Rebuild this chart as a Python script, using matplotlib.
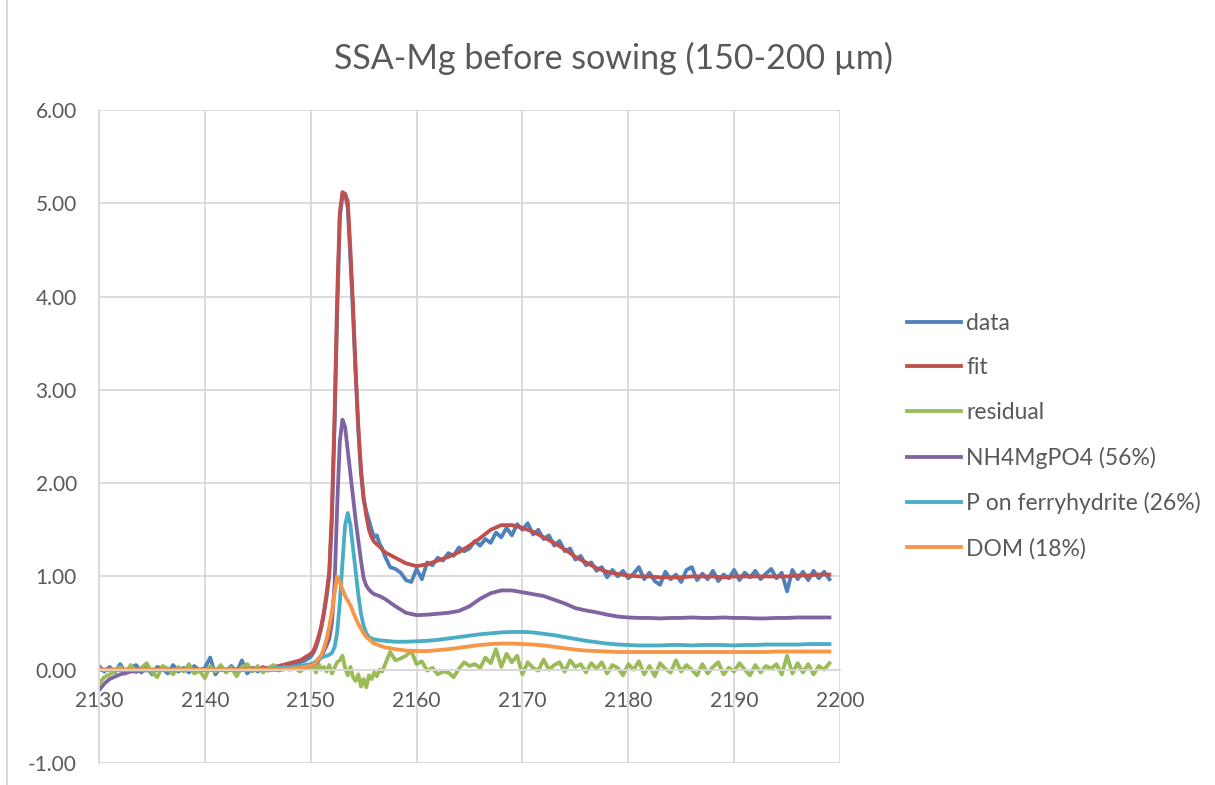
import matplotlib.pyplot as plt
import numpy as np

# measured spectrum and residual (energy in eV)
data_e = np.concatenate([np.arange(2130, 2150.01, 0.5),
                         np.arange(2150.25, 2157.01, 0.25),
                         np.arange(2157.5, 2199.01, 0.5)])
data = [0.04, -0.02, 0.03, -0.03, 0.06, -0.04, 0.02, 0.05, -0.03, 0.04,
        -0.05, 0.03, 0.01, -0.04, 0.05, -0.02, 0.02, -0.03, 0.04, -0.01,
        0.02, 0.13, -0.05, 0.03, -0.02, 0.04, -0.03, 0.10, -0.04, 0.02,
        -0.02, 0.03, -0.01, 0.02, 0.00, 0.03, 0.04, 0.05, 0.08, 0.10,
        0.14,
        0.18, 0.24, 0.33, 0.45, 0.60, 0.78, 1.00, 1.60, 2.60, 3.80,
        4.85, 5.08, 5.10, 4.95, 4.40, 3.80, 3.15, 2.55, 2.10, 1.82,
        1.70, 1.60, 1.50, 1.42, 1.44, 1.35, 1.30, 1.22,
        1.10, 1.08, 1.04, 0.96, 0.94, 1.08, 0.97, 1.15, 1.12,
        1.20, 1.17, 1.25, 1.22, 1.31, 1.27, 1.30, 1.38, 1.33, 1.40,
        1.36, 1.47, 1.42, 1.52, 1.44, 1.56, 1.50, 1.57, 1.45, 1.50,
        1.40, 1.44, 1.33, 1.38, 1.27, 1.30, 1.18, 1.22, 1.12, 1.15,
        1.06, 1.10, 0.99, 1.07, 1.00, 1.06, 0.98, 1.03, 1.10, 0.97,
        1.04, 0.95, 0.91, 1.05, 0.97, 1.02, 0.94, 1.07, 1.10, 0.96,
        1.03, 0.97, 1.06, 0.95, 1.02, 0.98, 1.07, 0.96, 1.04, 0.99,
        1.06, 0.97, 1.03, 1.08, 0.98, 1.04, 0.84, 1.07, 0.97, 1.05,
        0.96, 1.06, 0.98, 1.05, 0.97]
residual = [-0.15, -0.08, -0.05, -0.02, 0.03, -0.04, 0.05, -0.03, 0.02, 0.07,
            -0.03, -0.08, 0.04, 0.01, -0.05, 0.03, -0.02, 0.06, -0.04, -0.01,
            -0.09, 0.04, -0.02, 0.05, -0.03, 0.02, -0.07, 0.03, 0.06, -0.02,
            0.04, -0.03, 0.02, 0.05, -0.01, 0.03, 0.00, 0.02, -0.02, 0.03,
            0.01,
            0.05, -0.03, 0.06, 0.00, 0.03, -0.02, 0.05, -0.04, 0.02, 0.08,
            0.10, 0.15, 0.02, -0.06, 0.03, -0.08, -0.12, -0.05, -0.18, -0.10,
            -0.19, -0.06, -0.10, -0.03, -0.07, 0.00, -0.02, 0.05,
            0.19, 0.10, 0.12, 0.15, 0.20, 0.06, 0.09, -0.01, 0.02,
            -0.05, -0.02, -0.03, -0.08, 0.01, 0.08, 0.04, 0.06, 0.02, 0.13,
            0.07, 0.22, 0.03, 0.17, 0.08, 0.15, -0.05, 0.08, 0.02, -0.01,
            0.11, 0.00, 0.05, 0.08, -0.02, 0.10, 0.03, 0.06, -0.03, 0.07,
            0.01, 0.08, -0.04, 0.05, 0.02, -0.06, 0.06, 0.00, 0.09, -0.05,
            0.04, -0.07, 0.07, 0.01, -0.03, 0.10, -0.02, 0.05, 0.00, -0.06,
            0.06, -0.04, 0.03, 0.08, -0.05, 0.02, -0.02, 0.07, 0.00, -0.06,
            0.05, -0.03, 0.04, 0.01, 0.06, -0.05, 0.15, -0.04, 0.07, -0.03,
            0.06, -0.05, 0.04, 0.00, 0.07]

# fit and reference components
comp_e = np.concatenate([[2130, 2130.5, 2131, 2132, 2133, 2134, 2136, 2138,
                          2140, 2142, 2144, 2146, 2147, 2148, 2149, 2150],
                         np.arange(2150.25, 2156.01, 0.25),
                         [2156.5, 2157],
                         np.arange(2158, 2199.01, 1)])
fit = [0.0, 0.0, 0.0, 0.0, 0.0, 0.0, 0.0, 0.0, 0.0, 0.0, 0.01, 0.02, 0.04, 0.07, 0.10, 0.17,
       0.20, 0.27, 0.36, 0.47, 0.62, 0.82, 1.05, 1.70, 2.70, 4.00, 4.90, 5.12,
       5.10, 5.02, 4.50, 3.90, 3.20, 2.60, 2.15, 1.85, 1.65, 1.50, 1.42, 1.37,
       1.32, 1.26,
       1.20, 1.14, 1.11, 1.13, 1.17, 1.21, 1.26, 1.33, 1.41, 1.50,
       1.55, 1.55, 1.52, 1.48, 1.42, 1.36, 1.29, 1.21, 1.15, 1.09,
       1.05, 1.025, 1.01, 1.00, 1.00, 0.99, 0.99, 0.99, 1.00, 1.00,
       1.00, 0.99, 1.00, 1.00, 1.00, 1.00, 1.00, 1.00, 1.01, 1.01,
       1.02, 1.02]
nh4mgpo4 = [-0.22, -0.15, -0.10, -0.05, -0.02, -0.01, 0.0, 0.0, 0.0, 0.0, 0.0, 0.0, 0.0, 0.01, 0.02, 0.04,
            0.05, 0.07, 0.10, 0.14, 0.20, 0.26, 0.33, 0.50, 0.90, 1.75, 2.45, 2.68,
            2.60, 2.35, 2.10, 1.85, 1.60, 1.38, 1.17, 0.98, 0.90, 0.86, 0.83, 0.81,
            0.79, 0.76,
            0.68, 0.61, 0.585, 0.59, 0.60, 0.61, 0.63, 0.68, 0.76, 0.82,
            0.85, 0.85, 0.83, 0.81, 0.79, 0.75, 0.71, 0.66, 0.635, 0.615,
            0.59, 0.57, 0.56, 0.555, 0.555, 0.55, 0.555, 0.555, 0.56, 0.555,
            0.555, 0.56, 0.555, 0.555, 0.55, 0.55, 0.555, 0.555, 0.56, 0.56,
            0.56, 0.56]
p_ferryhydrite = [0.0, 0.0, 0.0, 0.0, 0.0, 0.0, 0.0, 0.0, 0.0, 0.0, 0.0, 0.01, 0.02, 0.03, 0.04, 0.06,
                  0.07, 0.09, 0.11, 0.13, 0.14, 0.15, 0.16, 0.18, 0.24, 0.40, 0.72, 1.15,
                  1.55, 1.68, 1.55, 1.30, 1.05, 0.80, 0.60, 0.47, 0.39, 0.35, 0.335, 0.325,
                  0.315, 0.31,
                  0.30, 0.30, 0.305, 0.31, 0.32, 0.335, 0.35, 0.365, 0.38, 0.39,
                  0.40, 0.405, 0.405, 0.40, 0.385, 0.37, 0.35, 0.33, 0.31, 0.295,
                  0.28, 0.27, 0.265, 0.26, 0.26, 0.26, 0.265, 0.265, 0.26, 0.265,
                  0.265, 0.265, 0.26, 0.265, 0.265, 0.27, 0.27, 0.27, 0.27, 0.275,
                  0.275, 0.275]
dom = [0.0, 0.0, 0.0, 0.0, 0.0, 0.0, 0.0, 0.0, 0.0, 0.0, 0.0, 0.0, 0.005, 0.01, 0.02, 0.04,
       0.05, 0.08, 0.12, 0.16, 0.23, 0.33, 0.46, 0.62, 0.82, 1.00, 0.94, 0.86,
       0.79, 0.74, 0.69, 0.62, 0.55, 0.49, 0.44, 0.39, 0.35, 0.33, 0.30, 0.28,
       0.26, 0.24,
       0.22, 0.205, 0.20, 0.20, 0.21, 0.22, 0.235, 0.25, 0.265, 0.275,
       0.28, 0.28, 0.275, 0.27, 0.26, 0.245, 0.23, 0.215, 0.205, 0.20,
       0.195, 0.19, 0.19, 0.19, 0.19, 0.19, 0.19, 0.19, 0.19, 0.19,
       0.19, 0.19, 0.19, 0.19, 0.19, 0.19, 0.195, 0.195, 0.195, 0.195,
       0.195, 0.195]

labels = ["data", "fit", "residual", "NH4MgPO4 (56%)",
          "P on ferryhydrite (26%)", "DOM (18%)"]
colors = ["#4F81BD", "#C0504D", "#9BBB59", "#8064A2", "#4BACC6", "#F79646"]

plt.rcParams['font.family'] = ['Lato', 'DejaVu Sans']
text_color = "#595959"
grid_color = "#D9D9D9"

fig = plt.figure(figsize=(12.15, 7.85), dpi=100)
ax = fig.add_axes([99 / 1215, 1 - 763 / 785, 741 / 1215, 653 / 785])

series = [(data_e, data), (comp_e, fit), (data_e, residual),
          (comp_e, nh4mgpo4), (comp_e, p_ferryhydrite), (comp_e, dom)]
for (xs, ys), lab, col in zip(series, labels, colors):
    ax.plot(xs, ys, color=col, lw=2.75, label=lab, solid_joinstyle='round')

ax.set_xlim(2130, 2200)
ax.set_ylim(-1, 6)
ax.set_xticks(np.arange(2130, 2201, 10))
ax.set_yticks(np.arange(-1, 6.01, 1))
ax.yaxis.set_major_formatter(plt.FormatStrFormatter('%.2f'))
ax.grid(True, color=grid_color, lw=1.3)
ax.set_axisbelow(True)

for side in ['top', 'right']:
    ax.spines[side].set_visible(False)
ax.spines['left'].set_color(grid_color)
ax.spines['left'].set_linewidth(1.3)
ax.spines['bottom'].set_position(('data', 0))
ax.spines['bottom'].set_color(grid_color)
ax.spines['bottom'].set_linewidth(1.3)
ax.tick_params(axis='both', length=0, labelsize=15, colors=text_color)
ax.tick_params(axis='x', pad=15)
ax.tick_params(axis='y', pad=16)

fig.text(0.505, 0.925, "SSA-Mg before sowing (150-200 µm)", ha='center',
         va='center', fontsize=24.5, color=text_color)

ax.legend(loc='center left', bbox_to_anchor=(907 / 1215, 1 - 436 / 785),
          bbox_transform=fig.transFigure, frameon=False, fontsize=16.5,
          labelcolor=text_color, handlelength=2.36, handletextpad=0.22,
          labelspacing=1.03, borderpad=0, borderaxespad=0)

# chart area border
fig.add_artist(plt.Line2D([7 / 1215, 7 / 1215], [0, 1], color=grid_color,
                          lw=1.3, transform=fig.transFigure))

fig.savefig("out.png", dpi=100)
